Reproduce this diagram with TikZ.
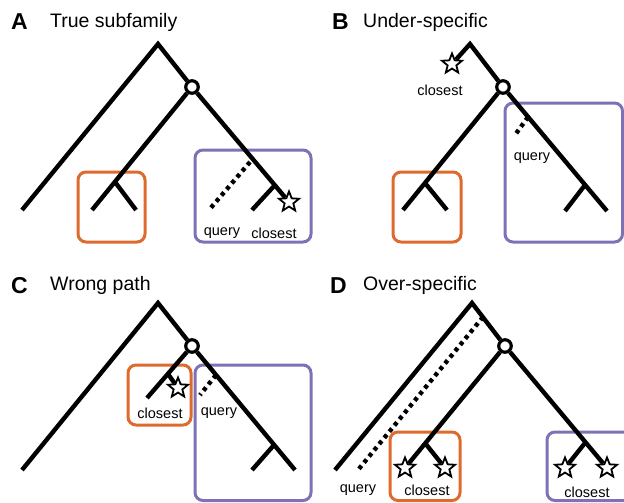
\documentclass[tikz,border=0pt]{standalone}
\usepackage{fontspec}
\setmainfont{Liberation Sans}
\usetikzlibrary{shapes.geometric}
\definecolor{borange}{HTML}{DF6A2E}
\definecolor{bpurple}{HTML}{7D72B5}
\tikzset{
 branch/.style={line width=4.4pt, line cap=butt, line join=miter},
 qline/.style={line width=4.4pt, dash pattern=on 4pt off 4pt},
 obox/.style={draw=borange, line width=3pt, rounded corners=8pt},
 pbox/.style={draw=bpurple, line width=3pt, rounded corners=8pt},
 split/.style={circle, draw, fill=white, line width=3.2pt, minimum size=12.5pt, inner sep=0pt},
 hit/.style={star, star points=5, star point ratio=2.3, draw, fill=white, line width=1.8pt, minimum size=21pt, inner sep=0pt},
 letter/.style={font=\fontsize{23}{23}\selectfont\bfseries, anchor=base west, inner sep=0pt},
 title/.style={font=\fontsize{19.5}{20}\selectfont, anchor=base west, inner sep=0pt},
 lbl/.style={font=\fontsize{14.5}{15}\selectfont, inner sep=0pt},
}
\begin{document}
\begin{tikzpicture}[x=1pt,y=-1pt]
\path[use as bounding box, clip] (0,0) rectangle (624,503);
% ---------- headings
\node[letter] (hA) at (11,30) {A};
\node[title] (tA) at (50,28) {True subfamily};
\node[letter] (hB) at (332,30) {B};
\node[title] (tB) at (363,28) {Under-specific};
\node[letter] (hC) at (11,293) {C};
\node[title] (tC) at (50,290) {Wrong path};
\node[letter] (hD) at (330,293) {D};
\node[title] (tD) at (363,290) {Over-specific};

% ---------- Panel A
\draw[obox] (78,172) rectangle (145,242);
\draw[pbox] (195,150) rectangle (311,242);
\coordinate (aR) at (158,44);
\coordinate (aL) at (22,210);
\node[split] (aC) at (192,87) {};
\coordinate (aO) at (115,182);
\coordinate (aOL) at (92,210);
\coordinate (aOR) at (136,210);
\coordinate (aP) at (275,185);
\coordinate (aPL) at (252,210);
\node[hit] (aS) at (289,202) {};
\coordinate (aQ1) at (250,162);
\coordinate (aQ2) at (209,210);
\draw[branch] (aL) -- (aR) -- (aC);
\draw[branch] (aC) -- (aOL);
\draw[branch] (aO) -- (aOR);
\draw[branch] (aC) -- (aS);
\draw[branch] (aP) -- (aPL);
\draw[qline] (aQ1) -- (aQ2);
\node[lbl] (aq) at (222,233) {query};
\node[lbl] (ac) at (274,233) {closest};

% ---------- Panel B
\draw[obox] (393,172) rectangle (461,242);
\draw[pbox] (505,103) rectangle (622.5,242);
\coordinate (bR) at (470,44);
\node[hit] (bS) at (452,64) {};
\node[split] (bC) at (503,87) {};
\coordinate (bO) at (425,183);
\coordinate (bOL) at (403,210);
\coordinate (bOR) at (447,210);
\coordinate (bP) at (585,185);
\coordinate (bPL) at (565,211);
\coordinate (bPR) at (607,211);
\coordinate (bQ1) at (528,117);
\coordinate (bQ2) at (515,135);
\draw[branch] (bS) -- (bR) -- (bC);
\draw[branch] (bC) -- (bOL);
\draw[branch] (bO) -- (bOR);
\draw[branch] (bC) -- (bPR);
\draw[branch] (bP) -- (bPL);
\draw[qline] (bQ1) -- (bQ2);
\node[lbl] (bc) at (440,90) {closest};
\node[lbl] (bq) at (532,158) {query};

% ---------- Panel C
\draw[obox] (128,365) rectangle (191,425);
\draw[pbox] (195,365) rectangle (311,500.5);
\coordinate (cR) at (158,303);
\coordinate (cL) at (22,470);
\node[split] (cC) at (192,346) {};
\coordinate (cOL) at (147,398);
\coordinate (cOB) at (168,374);
\node[hit] (cS) at (178,388) {};
\coordinate (cP) at (274,445);
\coordinate (cPL) at (252,470);
\coordinate (cPR) at (295,470);
\coordinate (cQ1) at (216,375);
\coordinate (cQ2) at (200,395);
\draw[branch] (cL) -- (cR) -- (cC);
\draw[branch] (cC) -- (cOL);
\draw[branch] (cOB) -- (cS);
\draw[branch] (cC) -- (cPR);
\draw[branch] (cP) -- (cPL);
\draw[qline] (cQ1) -- (cQ2);
\node[lbl] (cc) at (160,413) {closest};
\node[lbl] (cq) at (219,413) {query};

% ---------- Panel D
\draw[obox] (390,432) rectangle (460,500.5);
\draw[pbox] (547,432) rectangle (640,500.5);
\coordinate (dR) at (472,303);
\coordinate (dL) at (335,470);
\node[split] (dC) at (505,346) {};
\coordinate (dO) at (425,443);
\node[hit] (dS1) at (405,468) {};
\node[hit] (dS2) at (445,468) {};
\coordinate (dP) at (585,443);
\node[hit] (dS3) at (565,468) {};
\node[hit] (dS4) at (607,468) {};
\coordinate (dQ1) at (483,317);
\coordinate (dQ2) at (358,470);
\draw[branch] (dL) -- (dR) -- (dC);
\draw[branch] (dC) -- (dS1);
\draw[branch] (dO) -- (dS2);
\draw[branch] (dC) -- (dS4);
\draw[branch] (dP) -- (dS3);
\draw[qline] (dQ1) -- (dQ2);
\node[lbl] (dq) at (358,490) {query};
\node[lbl] (dc1) at (427,490) {closest};
\node[lbl] (dc2) at (587,492) {closest};
\end{tikzpicture}
\end{document}
